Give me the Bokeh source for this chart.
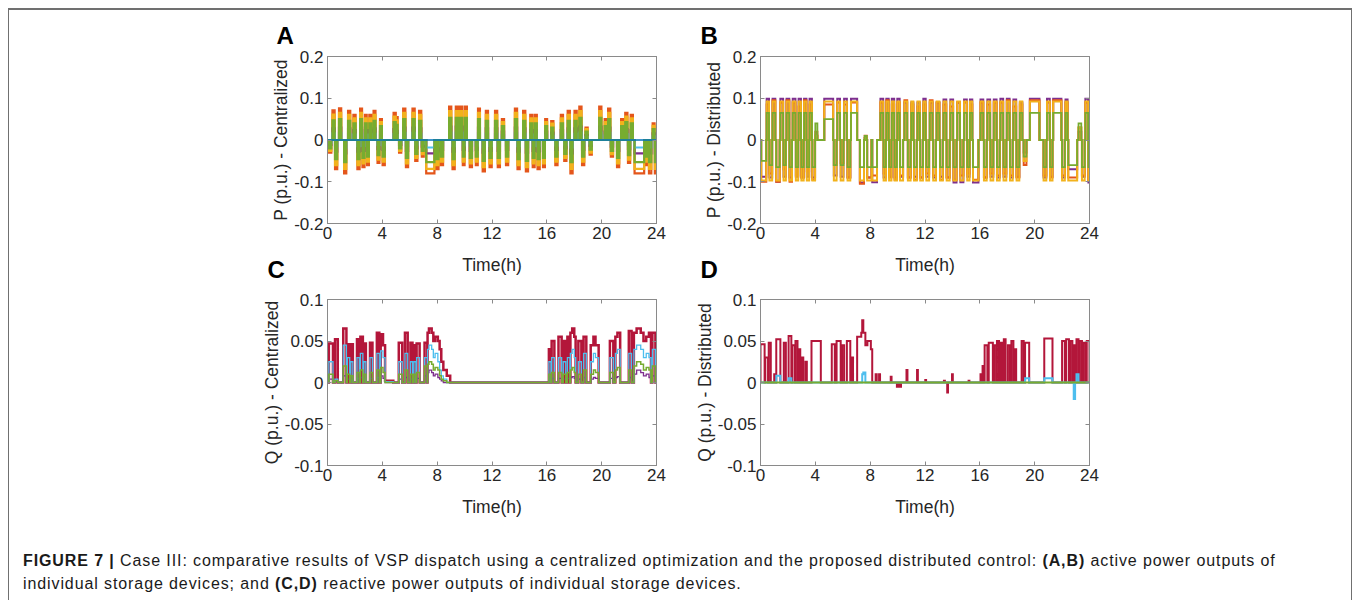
from bokeh.plotting import figure
from bokeh.models import (Range1d, FixedTicker, LinearAxis, Title, Div,
                          ColumnDataSource, CustomJSTickFormatter)
from bokeh.layouts import column, row
from bokeh.embed import file_html
from bokeh.resources import INLINE

# ---------------------------------------------------------------- data
X_TICKS = [0, 4, 8, 12, 16, 20, 24]
P_TICKS = [-0.2, -0.1, 0, 0.1, 0.2]
P_TICK_LABELS = ["-0.2", "-0.1", "0", "0.1", "0.2"]
Q_TICKS = [-0.1, -0.05, 0, 0.05, 0.1]
Q_TICK_LABELS = ["-0.1", "-0.05", "0", "0.05", "0.1"]

# Panel A: active power, centralized (pulse start/end in h, output per device in p.u.)
A_start = [0.12, 0.36, 0.55, 0.84, 1.21, 1.50, 1.89, 2.18, 2.38, 2.55,
           2.73, 2.89, 3.05, 3.36, 3.65, 3.83, 4.02, 4.82, 5.00, 5.22,
           5.52, 5.72, 6.20, 6.40, 6.68, 6.88, 7.20, 7.94, 8.27, 8.87,
           9.12, 9.36, 9.68, 9.87, 10.03, 10.38, 10.82, 10.98, 11.32, 11.55,
           11.82, 12.22, 12.42, 12.72, 13.02, 13.67, 13.86, 14.27, 14.47, 14.79,
           14.97, 15.13, 15.32, 15.72, 15.88, 16.32, 16.62, 17.02, 17.27, 17.52,
           17.72, 18.02, 18.37, 18.57, 18.82, 19.12, 19.82, 20.22, 20.47, 20.67,
           21.12, 21.42, 21.72, 21.92, 22.12, 22.40, 23.22, 23.45, 23.72, 23.88]
A_end = [0.28, 0.52, 0.71, 1.00, 1.37, 1.66, 2.05, 2.34, 2.52, 2.70,
         2.86, 3.02, 3.19, 3.50, 3.79, 3.97, 4.18, 4.98, 5.12, 5.38,
         5.68, 5.88, 6.36, 6.56, 6.84, 7.02, 7.80, 8.10, 8.43, 9.03,
         9.28, 9.52, 9.84, 10.00, 10.17, 10.54, 10.96, 11.12, 11.48, 11.71,
         11.98, 12.38, 12.58, 12.88, 13.18, 13.83, 14.02, 14.43, 14.63, 14.95,
         15.11, 15.27, 15.48, 15.86, 16.02, 16.48, 16.78, 17.18, 17.43, 17.68,
         17.88, 18.18, 18.53, 18.73, 18.98, 19.28, 19.98, 20.38, 20.63, 20.83,
         21.28, 21.58, 21.88, 22.08, 22.28, 23.10, 23.38, 23.62, 23.86, 24.00]
A_orange = [-0.030, 0.071, -0.070, 0.076, -0.080, 0.070, 0.060, -0.070, 0.075, -0.065,
            0.060, -0.060, 0.060, 0.070, -0.055, 0.050, -0.060, 0.065, 0.055, -0.030,
            0.075, -0.065, 0.075, -0.050, 0.070, -0.040, -0.080, -0.070, -0.060, 0.080,
            -0.070, 0.080, 0.080, -0.060, 0.080, -0.065, -0.060, 0.075, -0.075, 0.070,
            -0.065, 0.070, -0.065, 0.050, -0.060, 0.075, -0.070, 0.070, -0.075, 0.060,
            -0.065, 0.060, -0.070, -0.065, 0.050, 0.045, -0.060, 0.060, -0.050, 0.070,
            -0.080, 0.070, 0.080, -0.060, 0.030, -0.035, 0.080, 0.050, 0.075, -0.040,
            -0.065, 0.050, 0.065, -0.055, 0.060, -0.080, -0.060, -0.080, 0.040, -0.080]
A_yellow = [-0.026, 0.061, -0.060, 0.065, -0.069, 0.060, 0.052, -0.060, 0.065, -0.056,
            0.052, -0.052, 0.052, 0.060, -0.047, 0.043, -0.052, 0.056, 0.047, -0.026,
            0.065, -0.056, 0.065, -0.043, 0.060, -0.034, -0.069, -0.060, -0.052, 0.069,
            -0.060, 0.069, 0.069, -0.052, 0.069, -0.056, -0.052, 0.065, -0.065, 0.060,
            -0.056, 0.060, -0.056, 0.043, -0.052, 0.065, -0.060, 0.060, -0.065, 0.052,
            -0.056, 0.052, -0.060, -0.056, 0.043, 0.039, -0.052, 0.052, -0.043, 0.060,
            -0.069, 0.060, 0.069, -0.052, 0.026, -0.030, 0.069, 0.043, 0.065, -0.034,
            -0.056, 0.043, 0.056, -0.047, 0.052, -0.069, -0.052, -0.069, 0.034, -0.069]
A_green = [-0.020, 0.047, -0.046, 0.050, -0.053, 0.046, 0.040, -0.046, 0.050, -0.043,
           0.040, -0.040, 0.040, 0.046, -0.036, 0.033, -0.040, 0.043, 0.036, -0.020,
           0.050, -0.043, 0.050, -0.033, 0.046, -0.026, -0.053, -0.046, -0.040, 0.053,
           -0.046, 0.053, 0.053, -0.040, 0.053, -0.043, -0.040, 0.050, -0.050, 0.046,
           -0.043, 0.046, -0.043, 0.033, -0.040, 0.050, -0.046, 0.046, -0.050, 0.040,
           -0.043, 0.040, -0.046, -0.043, 0.033, 0.030, -0.040, 0.040, -0.033, 0.046,
           -0.053, 0.046, 0.053, -0.040, 0.020, -0.023, 0.053, 0.033, 0.050, -0.026,
           -0.043, 0.033, 0.043, -0.036, 0.040, -0.053, -0.040, -0.053, 0.026, -0.053]
A_purple = [-0.012, 0.028, -0.028, 0.030, -0.032, 0.028, 0.024, -0.028, 0.030, -0.026,
            0.024, -0.024, 0.024, 0.028, -0.022, 0.020, -0.024, 0.026, 0.022, -0.012,
            0.030, -0.026, 0.030, -0.020, 0.028, -0.016, -0.032, -0.028, -0.024, 0.032,
            -0.028, 0.032, 0.032, -0.024, 0.032, -0.026, -0.024, 0.030, -0.030, 0.028,
            -0.026, 0.028, -0.026, 0.020, -0.024, 0.030, -0.028, 0.028, -0.030, 0.024,
            -0.026, 0.024, -0.028, -0.026, 0.020, 0.018, -0.024, 0.024, -0.020, 0.028,
            -0.032, 0.028, 0.032, -0.024, 0.012, -0.014, 0.032, 0.020, 0.030, -0.016,
            -0.026, 0.020, 0.026, -0.022, 0.024, -0.032, -0.024, -0.032, 0.016, -0.032]
A_cyan = [-0.007, 0.016, -0.015, 0.017, -0.018, 0.015, 0.013, -0.015, 0.017, -0.014,
          0.013, -0.013, 0.013, 0.015, -0.012, 0.011, -0.013, 0.014, 0.012, -0.007,
          0.017, -0.014, 0.017, -0.011, 0.015, -0.009, -0.018, -0.015, -0.013, 0.018,
          -0.015, 0.018, 0.018, -0.013, 0.018, -0.014, -0.013, 0.017, -0.017, 0.015,
          -0.014, 0.015, -0.014, 0.011, -0.013, 0.017, -0.015, 0.015, -0.017, 0.013,
          -0.014, 0.013, -0.015, -0.014, 0.011, 0.010, -0.013, 0.013, -0.011, 0.015,
          -0.018, 0.015, 0.018, -0.013, 0.007, -0.008, 0.018, 0.011, 0.017, -0.009,
          -0.014, 0.011, 0.014, -0.012, 0.013, -0.018, -0.013, -0.018, 0.009, -0.018]
A_blue_t = [0.0, 24.0]
A_blue = [0.0, 0.0]

# Panel B: active power, distributed
B_start = [0.05, 0.45, 0.65, 0.88, 1.15, 1.45, 1.68, 1.90, 2.12, 2.35,
           2.58, 2.78, 2.98, 3.18, 3.38, 3.58, 3.78, 4.00, 4.65, 5.35,
           5.60, 5.85, 6.10, 6.35, 6.60, 7.25, 7.60, 7.78, 8.15, 8.75,
           8.98, 9.18, 9.38, 9.58, 9.78, 9.98, 10.18, 10.50, 10.75, 11.00,
           11.20, 11.45, 11.65, 11.88, 12.10, 12.35, 12.60, 12.85, 13.10, 13.35,
           13.58, 13.85, 14.08, 14.35, 14.58, 14.85, 15.08, 15.28, 15.50, 16.05,
           16.30, 16.55, 16.78, 17.02, 17.25, 17.50, 17.73, 17.97, 18.20, 18.45,
           18.68, 18.92, 19.20, 19.65, 20.65, 20.90, 21.12, 21.35, 22.00, 22.25,
           22.45, 23.20, 23.45, 23.70, 23.92]
B_end = [0.42, 0.62, 0.85, 1.08, 1.40, 1.65, 1.85, 2.10, 2.30, 2.55,
         2.75, 2.95, 3.15, 3.35, 3.55, 3.75, 3.98, 4.15, 5.30, 5.55,
         5.80, 6.05, 6.30, 6.55, 7.05, 7.55, 7.75, 8.10, 8.50, 8.95,
         9.15, 9.35, 9.55, 9.75, 9.95, 10.15, 10.40, 10.70, 10.95, 11.15,
         11.40, 11.62, 11.85, 12.05, 12.30, 12.55, 12.80, 13.05, 13.30, 13.55,
         13.80, 14.05, 14.30, 14.55, 14.80, 15.05, 15.25, 15.45, 15.90, 16.25,
         16.50, 16.75, 16.98, 17.22, 17.45, 17.70, 17.93, 18.17, 18.40, 18.65,
         18.88, 19.10, 19.40, 20.35, 20.85, 21.10, 21.30, 21.95, 22.20, 22.40,
         23.10, 23.40, 23.65, 23.90, 24.00]
B_purple = [-0.088, 0.099, -0.090, 0.099, -0.100, 0.099, -0.088, 0.099, -0.090, 0.099,
            -0.088, 0.099, -0.090, 0.099, -0.088, 0.099, -0.090, 0.010, 0.099, -0.085,
            0.099, -0.088, 0.099, -0.090, 0.099, -0.102, 0.005, -0.090, -0.101, 0.099,
            -0.090, 0.099, -0.088, 0.099, -0.090, 0.099, -0.088, 0.090, -0.090, 0.090,
            -0.088, 0.090, -0.090, 0.099, -0.088, 0.090, -0.090, 0.090, -0.088, 0.097,
            -0.090, 0.097, -0.102, 0.090, -0.101, 0.097, -0.088, 0.097, -0.102, 0.097,
            -0.090, 0.097, -0.088, 0.097, -0.090, 0.099, -0.088, 0.099, -0.090, 0.097,
            -0.088, 0.090, -0.030, 0.099, -0.090, 0.099, -0.088, 0.099, -0.090, 0.097,
            -0.070, 0.020, -0.088, 0.099, -0.102]
B_yellow = [-0.097, 0.092, -0.097, 0.092, -0.097, 0.092, -0.097, 0.092, -0.097, 0.092,
            -0.097, 0.092, -0.097, 0.092, -0.097, 0.092, -0.097, 0.010, 0.092, -0.097,
            0.092, -0.097, 0.092, -0.097, 0.092, -0.097, 0.005, -0.097, -0.097, 0.092,
            -0.097, 0.092, -0.097, 0.092, -0.097, 0.092, -0.097, 0.092, -0.097, 0.092,
            -0.097, 0.092, -0.097, 0.092, -0.097, 0.092, -0.097, 0.092, -0.097, 0.092,
            -0.097, 0.092, -0.097, 0.092, -0.097, 0.092, -0.097, 0.092, -0.097, 0.092,
            -0.097, 0.092, -0.097, 0.092, -0.097, 0.092, -0.097, 0.092, -0.097, 0.092,
            -0.097, 0.092, -0.050, 0.092, -0.097, 0.092, -0.097, 0.092, -0.097, 0.092,
            -0.097, 0.030, -0.097, 0.092, -0.097]
B_orange = [-0.100, 0.085, -0.080, 0.095, -0.100, 0.090, -0.070, 0.095, -0.100, 0.090,
            -0.085, 0.080, -0.090, 0.095, -0.075, 0.085, -0.095, 0.020, 0.085, -0.060,
            0.090, -0.055, 0.085, -0.090, 0.090, -0.105, 0.010, -0.090, -0.085, 0.090,
            -0.080, 0.095, -0.090, 0.085, -0.095, 0.090, -0.085, 0.095, -0.090, 0.085,
            -0.095, 0.080, -0.090, 0.085, -0.080, 0.095, -0.085, 0.090, -0.095, 0.085,
            -0.090, 0.080, -0.095, 0.090, -0.085, 0.090, -0.080, 0.085, -0.095, 0.090,
            -0.090, 0.085, -0.080, 0.090, -0.085, 0.090, -0.080, 0.095, -0.085, 0.080,
            -0.090, 0.085, -0.060, 0.095, -0.085, 0.090, -0.090, 0.095, -0.085, 0.090,
            -0.090, 0.030, -0.085, 0.090, -0.095]
B_green = [-0.050, 0.065, -0.060, 0.065, -0.065, 0.065, -0.060, 0.065, -0.065, 0.065,
           -0.065, 0.065, -0.065, 0.065, -0.065, 0.065, -0.065, 0.040, 0.050, -0.060,
           0.065, -0.060, 0.065, -0.065, 0.065, -0.065, 0.010, -0.065, -0.065, 0.065,
           -0.065, 0.065, -0.065, 0.065, -0.065, 0.065, -0.065, 0.065, -0.065, 0.065,
           -0.065, 0.065, -0.065, 0.065, -0.065, 0.065, -0.065, 0.065, -0.065, 0.065,
           -0.065, 0.065, -0.065, 0.065, -0.065, 0.065, -0.065, 0.065, -0.065, 0.065,
           -0.065, 0.065, -0.065, 0.065, -0.065, 0.065, -0.065, 0.065, -0.065, 0.065,
           -0.065, 0.065, -0.040, 0.065, -0.065, 0.065, -0.065, 0.065, -0.065, 0.065,
           -0.060, 0.040, -0.065, 0.065, -0.065]

# Panel C: reactive power, centralized
C_start = [0.10, 0.55, 1.15, 1.45, 1.70, 2.15, 2.40, 2.65, 3.10, 3.60,
           3.88, 4.05, 4.20, 5.20, 5.65, 6.05, 6.30, 6.50, 7.08, 7.30,
           7.40, 7.60, 7.72, 7.85, 8.05, 8.18, 8.30, 8.45, 8.70, 16.15,
           16.35, 16.85, 17.20, 17.50, 17.72, 17.85, 18.00, 18.30, 18.68, 19.20,
           19.40, 19.55, 20.60, 21.00, 21.15, 21.98, 22.35, 22.55, 22.85, 23.05,
           23.25, 23.45, 23.70]
C_end = [0.40, 0.75, 1.38, 1.62, 1.85, 2.32, 2.58, 2.80, 3.28, 3.78,
         4.05, 4.20, 4.80, 5.45, 5.85, 6.20, 6.45, 6.72, 7.28, 7.40,
         7.60, 7.72, 7.85, 8.05, 8.18, 8.30, 8.45, 8.70, 8.95, 16.30,
         16.55, 17.08, 17.38, 17.68, 17.85, 18.00, 18.10, 18.52, 18.88, 19.40,
         19.55, 19.78, 20.85, 21.15, 21.35, 22.18, 22.55, 22.85, 23.05, 23.25,
         23.45, 23.60, 23.92]
C_red = [0.047, 0.052, 0.065, 0.046, 0.046, 0.052, 0.055, 0.047, 0.048, 0.060,
         0.058, 0.045, 0.002, 0.048, 0.060, 0.048, 0.045, 0.047, 0.048, 0.060,
         0.065, 0.060, 0.050, 0.055, 0.050, 0.040, 0.025, 0.015, 0.008, 0.040,
         0.050, 0.055, 0.050, 0.055, 0.060, 0.065, 0.055, 0.050, 0.055, 0.045,
         0.055, 0.045, 0.050, 0.055, 0.060, 0.062, 0.060, 0.065, 0.060, 0.050,
         0.055, 0.060, 0.060]
C_cyan = [0.025, 0.004, 0.045, 0.030, 0.025, 0.030, 0.035, 0.025, 0.030, 0.035,
          0.038, 0.030, 0.001, 0.025, 0.035, 0.025, 0.025, 0.030, 0.030, 0.040,
          0.045, 0.040, 0.030, 0.035, 0.025, 0.015, 0.008, 0.004, 0.000, 0.025,
          0.030, 0.030, 0.025, 0.030, 0.035, 0.040, 0.030, 0.025, 0.035, 0.025,
          0.035, 0.030, 0.030, 0.035, 0.040, 0.035, 0.040, 0.045, 0.040, 0.030,
          0.035, 0.030, 0.040]
C_green = [0.010, 0.002, 0.020, 0.010, 0.008, 0.012, 0.015, 0.010, 0.012, 0.015,
           0.018, 0.012, 0.000, 0.010, 0.015, 0.010, 0.010, 0.012, 0.020, 0.022,
           0.025, 0.022, 0.015, 0.018, 0.015, 0.008, 0.004, 0.002, 0.000, 0.010,
           0.012, 0.012, 0.010, 0.012, 0.015, 0.018, 0.012, 0.010, 0.015, 0.010,
           0.015, 0.012, 0.012, 0.015, 0.018, 0.015, 0.020, 0.025, 0.022, 0.015,
           0.018, 0.015, 0.020]
C_purple = [0.004, 0.001, 0.008, 0.004, 0.003, 0.005, 0.006, 0.004, 0.005, 0.006,
            0.008, 0.005, 0.000, 0.004, 0.006, 0.004, 0.004, 0.005, 0.008, 0.012,
            0.015, 0.012, 0.008, 0.010, 0.006, 0.004, 0.002, 0.000, 0.000, 0.004,
            0.005, 0.005, 0.004, 0.005, 0.006, 0.007, 0.005, 0.004, 0.006, 0.004,
            0.006, 0.005, 0.005, 0.006, 0.007, 0.006, 0.010, 0.015, 0.012, 0.008,
            0.010, 0.006, 0.008]

# Panel D: reactive power, distributed
D_start = [0.00, 0.35, 0.60, 1.00, 1.15, 1.70, 2.05, 2.30, 2.55, 2.78,
           3.02, 3.28, 3.72, 5.20, 5.55, 5.95, 6.30, 6.68, 7.05, 7.35,
           7.42, 7.50, 7.65, 7.80, 8.05, 8.40, 8.65, 9.50, 9.95, 10.15,
           10.65, 11.42, 12.02, 13.38, 13.62, 13.97, 15.18, 16.05, 16.20, 16.35,
           16.65, 17.05, 17.25, 17.50, 17.75, 18.05, 18.30, 18.55, 19.05, 19.30,
           20.70, 22.00, 22.30, 22.60, 22.85, 23.05, 23.30, 23.55, 23.80]
D_end = [0.30, 0.55, 0.75, 1.08, 1.45, 1.85, 2.25, 2.48, 2.70, 2.90,
         3.12, 3.38, 4.40, 5.42, 5.85, 6.10, 6.55, 6.75, 7.35, 7.42,
         7.50, 7.65, 7.80, 8.05, 8.15, 8.48, 8.72, 9.56, 10.05, 10.25,
         10.72, 11.48, 12.08, 13.45, 13.68, 14.03, 15.24, 16.15, 16.30, 16.55,
         16.95, 17.20, 17.40, 17.62, 17.88, 18.20, 18.45, 18.65, 19.20, 19.60,
         21.30, 22.20, 22.50, 22.75, 22.95, 23.20, 23.45, 23.70, 24.00]
D_red = [0.046, 0.030, 0.048, 0.010, 0.052, 0.048, 0.056, 0.045, 0.050, 0.040,
         0.030, 0.025, 0.050, 0.046, 0.050, 0.045, 0.050, 0.030, 0.055, 0.060,
         0.075, 0.060, 0.045, 0.050, 0.040, 0.010, 0.010, 0.007, -0.005, -0.005,
         0.015, 0.015, 0.003, 0.002, -0.012, 0.010, 0.002, 0.010, 0.020, 0.045,
         0.048, 0.045, 0.050, 0.048, 0.052, 0.045, 0.050, 0.040, 0.050, 0.048,
         0.053, 0.050, 0.052, 0.050, 0.045, 0.052, 0.050, 0.048, 0.050]
D_cyan = [0.000, 0.000, 0.000, 0.000, 0.008, 0.000, 0.005, 0.000, 0.000, 0.000,
          0.000, 0.000, 0.000, 0.000, 0.000, 0.000, 0.000, 0.000, 0.000, 0.000,
          0.010, 0.012, 0.000, 0.000, 0.000, 0.000, 0.000, 0.000, 0.000, 0.000,
          0.000, 0.000, 0.000, 0.000, 0.000, 0.000, 0.000, 0.000, 0.000, 0.000,
          0.000, 0.000, 0.000, 0.000, 0.000, 0.000, 0.000, 0.000, 0.000, 0.005,
          0.005, 0.000, 0.000, 0.000, -0.020, 0.010, 0.000, 0.000, 0.000]
D_green_t = [0.0, 24.0]
D_green = [0.0, 0.0]

# ---------------------------------------------------------------- styles
ORANGE = "#E4561B"
YELLOW = "#F2B21C"
PURPLE = "#7E2F8E"
GREEN = "#77AC30"
CYAN = "#4DBEEE"
BLUE = "#0072BD"
RED = "#B3163A"
AX_COLOR = "#8a8a8a"
TXT = "#262626"
FONT = "Liberation Sans"
LW = 2.2

for arrs in [(A_start, A_end, A_orange, A_yellow, A_green, A_purple, A_cyan),
             (B_start, B_end, B_purple, B_yellow, B_orange, B_green),
             (C_start, C_end, C_red, C_cyan, C_green, C_purple),
             (D_start, D_end, D_red, D_cyan)]:
    assert len(set(len(a) for a in arrs)) == 1, [len(a) for a in arrs]


def step_path(starts, ends, vals, t_end=24.0):
    xs, ys = [0.0], [0.0]
    n = len(vals)
    for i in range(n):
        s, e, v = starts[i], ends[i], vals[i]
        if i == 0 or s > ends[i - 1] + 1e-9:
            xs.append(s)
            ys.append(0.0)
        xs += [s, e]
        ys += [v, v]
        if i == n - 1 or starts[i + 1] > e + 1e-9:
            xs.append(e)
            ys.append(0.0)
    xs.append(t_end)
    ys.append(0.0)
    return xs, ys


blank = CustomJSTickFormatter(code="return ''")


def make_panel(width, height, bl, br, bt, bb, ylabel, yticks, ylabels):
    ylo, yhi = yticks[0], yticks[-1]
    p = figure(width=width, height=height, x_range=Range1d(0, 24),
               y_range=Range1d(ylo, yhi), output_backend="svg",
               toolbar_location=None, min_border_left=bl, min_border_right=br,
               min_border_top=bt, min_border_bottom=bb)
    p.grid.visible = False
    p.background_fill_color = "white"
    p.border_fill_color = "white"
    p.outline_line_color = AX_COLOR
    p.outline_line_width = 1
    xa = p.xaxis[0]
    ya = p.yaxis[0]
    xa.ticker = FixedTicker(ticks=X_TICKS)
    ya.ticker = FixedTicker(ticks=yticks)
    ya.major_label_overrides = {t: l for t, l in zip(yticks, ylabels)}
    xa.axis_label = "Time(h)"
    ya.axis_label = ylabel
    top = LinearAxis(ticker=FixedTicker(ticks=X_TICKS), formatter=blank)
    right = LinearAxis(ticker=FixedTicker(ticks=yticks), formatter=blank)
    p.add_layout(top, "above")
    p.add_layout(right, "right")
    for ax in (xa, ya, top, right):
        ax.axis_line_color = AX_COLOR
        ax.axis_line_width = 1
        ax.major_tick_line_color = AX_COLOR
        ax.major_tick_in = 4
        ax.major_tick_out = 0
        ax.minor_tick_line_color = None
        ax.major_label_text_font = FONT
        ax.major_label_text_font_size = "17px"
        ax.major_label_text_color = TXT
        ax.axis_label_text_font = FONT
        ax.axis_label_text_font_size = "17.5px"
        ax.axis_label_text_font_style = "normal"
        ax.axis_label_text_color = TXT
    xa.major_label_standoff = 3
    ya.major_label_standoff = 4
    xa.axis_label_standoff = 13
    ya.axis_label_standoff = 0
    top.major_label_standoff = 0
    right.major_label_standoff = 0
    return p


def add_series(p, starts, ends, vals, color, lw=LW):
    xs, ys = step_path(starts, ends, vals)
    src = ColumnDataSource(dict(x=xs, y=ys))
    p.line("x", "y", source=src, line_color=color, line_width=lw,
           line_join="miter")


def letter(text, offset, side_standoff, valign):
    return Title(text=text, align="left", offset=offset, standoff=side_standoff,
                 vertical_align=valign, text_font=FONT, text_font_style="bold",
                 text_font_size="24px", text_color="black")


pA = make_panel(667, 274, 318, 20, 46, 61, "P (p.u.) - Centralized", P_TICKS, P_TICK_LABELS)
pB = make_panel(675, 274, 84, 262, 46, 61, "P (p.u.) - Distributed", P_TICKS, P_TICK_LABELS)
pC = make_panel(667, 237, 318, 20, 15, 56, "Q (p.u.) - Centralized", Q_TICKS, Q_TICK_LABELS)
pD = make_panel(675, 237, 84, 262, 15, 56, "Q (p.u.) - Distributed", Q_TICKS, Q_TICK_LABELS)

for vals, col in [(A_orange, ORANGE), (A_yellow, YELLOW), (A_purple, PURPLE),
                  (A_cyan, CYAN), (A_green, GREEN)]:
    add_series(pA, A_start, A_end, vals, col)
pA.line(A_blue_t, A_blue, line_color=BLUE, line_width=1.6)

for vals, col, lw in [(B_purple, PURPLE, 2.0), (B_orange, ORANGE, 2.0),
                      (B_yellow, YELLOW, 2.0), (B_green, GREEN, 1.8)]:
    add_series(pB, B_start, B_end, vals, col, lw)

for vals, col, lw in [(C_red, RED, 2.5), (C_purple, PURPLE, 1.3),
                      (C_cyan, CYAN, 1.3), (C_green, GREEN, 1.5)]:
    add_series(pC, C_start, C_end, vals, col, lw)

for vals, col in [(D_red, RED), (D_cyan, CYAN)]:
    add_series(pD, D_start, D_end, vals, col, lw=2.0)
pD.line(D_green_t, D_green, line_color=GREEN, line_width=2.0)

# panel letters
pA.add_layout(letter("A", -51, 15, "bottom"), "above")
pB.add_layout(letter("B", -60, 15, "bottom"), "above")
pA.add_layout(letter("C", -60, -44, "top"), "below")
pB.add_layout(letter("D", -60, -44, "top"), "below")

caption_html = (
    '<div style="padding:29px 0 0 14px; font-family:\'Liberation Sans\', Arial, sans-serif;'
    ' font-size:16px; letter-spacing:0.9px; line-height:22.5px; color:#1a1a1a; white-space:nowrap;">'
    '<b>FIGURE 7 |</b> Case III: comparative results of VSP dispatch using a centralized '
    'optimization and the proposed distributed control: <b>(A,B)</b> active power outputs of<br>'
    'individual storage devices; and <b>(C,D)</b> reactive power outputs of individual storage devices.'
    '</div>'
)
caption = Div(text=caption_html, width=1342, height=79, margin=(0, 0, 0, 0))

layout = column(
    row(pA, pB), row(pC, pD), caption,
    margin=(8, 0, 0, 8),
    styles={"border-top": "2px solid #707070", "border-left": "1px solid #707070",
            "border-right": "1px solid #707070", "background": "white"},
)

open("out.html", "w").write(file_html(layout, INLINE))
